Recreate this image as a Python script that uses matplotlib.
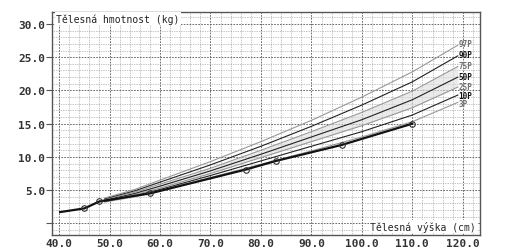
import numpy as np
import matplotlib.pyplot as plt

# child's measurements (height cm, weight kg)
child_h = [40.2, 45.0, 48.0, 58.0, 77.0, 83.0, 96.0, 110.0]
child_w = [1.7, 2.25, 3.3, 4.5, 8.1, 9.4, 11.8, 15.0]
child_mark = [False, True, True, True, True, True, True, True]

# percentile curves
pct_h = [49, 55, 60, 70, 80, 90, 100, 110, 119]
pct_names = ['3P', '10P', '25P', '50P', '75P', '90P', '97P']
pct_vals = {
    '3P':  [3.2, 4.0, 4.9, 6.9, 8.9, 10.9, 13.0, 15.3, 18.2],
    '10P': [3.3, 4.2, 5.1, 7.2, 9.4, 11.6, 13.8, 16.3, 19.3],
    '25P': [3.4, 4.3, 5.3, 7.5, 9.9, 12.3, 14.7, 17.4, 20.5],
    '50P': [3.5, 4.5, 5.6, 7.9, 10.4, 13.0, 15.6, 18.6, 22.0],
    '75P': [3.6, 4.7, 5.9, 8.3, 11.0, 13.8, 16.7, 19.9, 23.6],
    '90P': [3.7, 4.9, 6.2, 8.8, 11.6, 14.6, 17.8, 21.3, 25.2],
    '97P': [3.8, 5.1, 6.5, 9.3, 12.3, 15.5, 19.0, 22.8, 26.8],
}
pct_label_y = [18.1, 19.3, 20.6, 22.1, 23.7, 25.4, 27.1]
pct_dark = {'3P': False, '10P': True, '25P': False, '50P': True,
            '75P': False, '90P': True, '97P': False}

xticks = np.arange(40, 121, 10)
yticks = np.arange(0, 31, 5)

plt.rcParams['font.family'] = 'DejaVu Sans Mono'
fig = plt.figure(figsize=(5.12, 2.53), dpi=100)
ax = fig.add_axes([0.1016, 0.0672, 0.8359, 0.8814])
ax.set_xlim(38.6, 123.4)
ax.set_ylim(-1.75, 31.8)

# grid
for x in np.arange(40, 123, 2):
    major = x % 10 == 0
    ax.axvline(x, color='#555' if major else '#8a8a8a', lw=0.6 if major else 0.5,
               ls=(0, (2, 1.5)) if major else (0, (1, 1.5)), zorder=1)
for y in np.arange(-1, 32, 1):
    major = y % 5 == 0
    ax.axhline(y, color='#555' if major else '#8a8a8a', lw=0.6 if major else 0.5,
               ls=(0, (2, 1.5)) if major else (0, (1, 1.5)), zorder=1)

# shaded band
ax.fill_between(pct_h, pct_vals['25P'], pct_vals['75P'], color='#dcdcdc', alpha=0.6, lw=0, zorder=2)

for name, ly in zip(pct_names, pct_label_y):
    dark = pct_dark[name]
    col = '#222' if dark else '#999'
    ax.plot(pct_h, pct_vals[name], color=col, lw=0.8, zorder=3)
    ax.text(pct_h[-1] + 0.1, ly, name, fontsize=5.5,
            color='#111' if dark else '#707070', ha='left', va='center',
            fontweight='bold', zorder=5)

ax.plot(child_h, child_w, color='#111', lw=1.6, zorder=4)
mh = [h for h, m in zip(child_h, child_mark) if m]
mw = [w for w, m in zip(child_w, child_mark) if m]
ax.plot(mh, mw, 'o', ms=4, mfc='none', mec='#333', mew=0.8, zorder=5)

ax.text(0.01, 0.995, 'Tělesná hmotnost (kg)', transform=ax.transAxes, fontsize=7,
        ha='left', va='top', color='#222', zorder=6,
        bbox=dict(boxstyle='square,pad=0.1', fc='white', ec='none'))
ax.text(0.99, 0.012, 'Tělesná výška (cm)', transform=ax.transAxes, fontsize=7,
        ha='right', va='bottom', color='#222', zorder=6,
        bbox=dict(boxstyle='square,pad=0.1', fc='white', ec='none'))

ax.set_xticks(xticks)
ax.set_xticklabels(['%.1f' % v for v in xticks], fontsize=8, fontweight='bold', color='#333')
ax.set_yticks(yticks)
ax.set_yticklabels([''] + ['%.1f' % v for v in yticks[1:]], fontsize=8, fontweight='bold', color='#333')
ax.tick_params(axis='y', length=4, width=0.8, color='#555', pad=1)
ax.tick_params(axis='x', length=0, pad=2)
for s in ax.spines.values():
    s.set_color('#555')
    s.set_linewidth(1.0)

fig.savefig('out.png', dpi=100)
